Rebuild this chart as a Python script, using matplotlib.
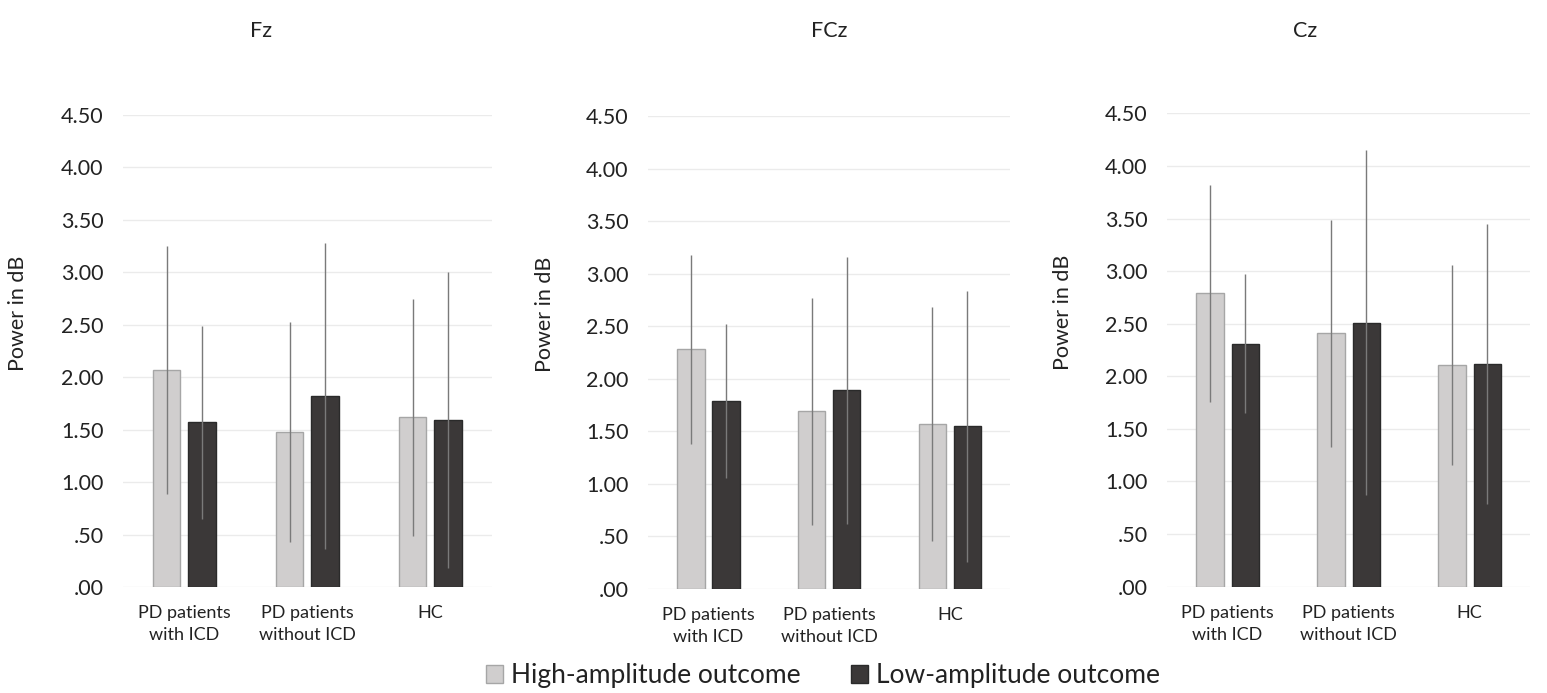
"""
Power in dB per electrode, grouped bar charts with SD error bars
"""
import matplotlib.pyplot as plt
import numpy as np
from matplotlib.patches import Patch

plt.rcParams['font.family'] = ['Lato', 'DejaVu Sans']

groups = ["PD patients\nwith ICD", "PD patients\nwithout ICD", "HC"]
electrodes = ["Fz", "FCz", "Cz"]

# mean values (high / low amplitude outcome) per electrode
high_mean = {"Fz": [2.07, 1.48, 1.62], "FCz": [2.28, 1.69, 1.57], "Cz": [2.79, 2.41, 2.11]}
low_mean = {"Fz": [1.57, 1.82, 1.59], "FCz": [1.79, 1.89, 1.55], "Cz": [2.31, 2.51, 2.12]}
# standard deviations
high_sd = {"Fz": [1.18, 1.05, 1.13], "FCz": [0.90, 1.08, 1.11], "Cz": [1.03, 1.08, 0.95]}
low_sd = {"Fz": [0.92, 1.46, 1.41], "FCz": [0.73, 1.27, 1.29], "Cz": [0.66, 1.64, 1.33]}

yticks = [0, 0.5, 1.0, 1.5, 2.0, 2.5, 3.0, 3.5, 4.0, 4.5]
ytick_labels = [".00", ".50", "1.00", "1.50", "2.00", "2.50", "3.00", "3.50", "4.00", "4.50"]

high_color = "#d0cece"
low_color = "#3b3838"

fig = plt.figure(figsize=(15.47, 6.93), dpi=100)

axes_pos = [
    [0.0795, 0.153, 0.2385, 0.681],
    [0.419, 0.150, 0.234, 0.6826],
    [0.7544, 0.1534, 0.2347, 0.6831],
]
title_x = [0.169, 0.536, 0.8436]

x = np.arange(len(groups))
width = 0.225
offset = 0.145
err_kw = dict(ecolor="#7a7a7a", elinewidth=1.0, capsize=0)

for i, el in enumerate(electrodes):
    ax = fig.add_axes(axes_pos[i])
    ax.bar(x - offset, high_mean[el], width, yerr=high_sd[el], color=high_color,
           edgecolor="#a6a6a6", linewidth=1.0, error_kw=err_kw, zorder=2)
    ax.bar(x + offset, low_mean[el], width, yerr=low_sd[el], color=low_color,
           edgecolor="#2a2a2a", linewidth=1.0, error_kw=err_kw, zorder=2)

    ax.set_xlim(-0.5, 2.5)
    ax.set_ylim(0, 4.5)
    ax.set_yticks(yticks)
    ax.set_yticklabels(ytick_labels, fontsize=15.5, color="#222222")
    ax.set_xticks(x)
    ax.set_xticklabels(groups, fontsize=13, color="#222222", linespacing=1.45)
    ax.tick_params(axis="y", length=0, pad=14)
    ax.tick_params(axis="x", length=0, pad=13)
    ax.grid(axis="y", color="#ebebeb", linewidth=1.0, zorder=0)
    ax.set_axisbelow(True)
    for s in ax.spines.values():
        s.set_visible(False)

    ax.set_ylabel("Power in dB", fontsize=15.5, color="#222222")
    ax.yaxis.set_label_coords(-0.258, 0.58)

    fig.text(title_x[i], 0.955, el, fontsize=15.5, ha="center", va="center", color="#222222")

handles = [Patch(facecolor=high_color, edgecolor="#a6a6a6", label="High-amplitude outcome"),
           Patch(facecolor=low_color, edgecolor="#2a2a2a", label="Low-amplitude outcome")]
fig.legend(handles=handles, loc="center", bbox_to_anchor=(0.532, 0.025), ncol=2,
           frameon=False, fontsize=19, handlelength=0.65, handleheight=0.65,
           handletextpad=0.3, columnspacing=1.9, labelcolor="#222222")

plt.savefig("out.png", dpi=100)
